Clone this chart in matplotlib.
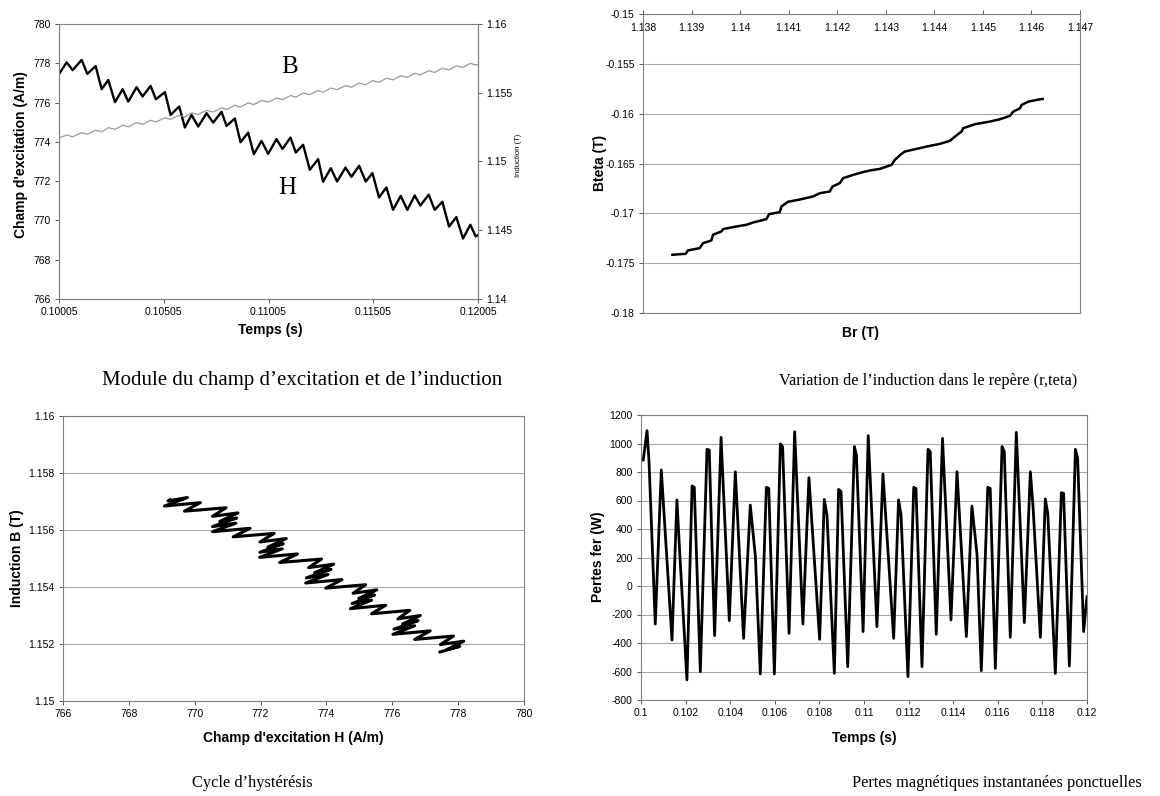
import matplotlib
matplotlib.use("Agg")
import matplotlib.pyplot as plt

plt.rcParams['font.family'] = ['Liberation Sans', 'DejaVu Sans']

# ---- données ----
# module H(t) et B(t)
temps_h = [0.10005, 0.100416, 0.100702, 0.101131, 0.101401, 0.101799, 0.102085, 0.102403, 0.102721, 0.103087,
           0.103357, 0.103754, 0.104040, 0.104422, 0.104676, 0.105106, 0.105376, 0.105789, 0.106059, 0.106377,
           0.106695, 0.107093, 0.107411, 0.107808, 0.108047, 0.108444, 0.108714, 0.109080, 0.109350, 0.109716,
           0.110034, 0.110431, 0.110718, 0.111099, 0.111353, 0.111703, 0.112021, 0.112419, 0.112657, 0.113023,
           0.113325, 0.113722, 0.114009, 0.114374, 0.114692, 0.115010, 0.115328, 0.115678, 0.115996, 0.116361,
           0.116679, 0.117029, 0.117299, 0.117697, 0.117983, 0.118349, 0.118667, 0.119016, 0.119334, 0.119684,
           0.119939, 0.12005]
champ_h = [777.45, 778.05, 777.65, 778.17, 777.46, 777.86, 776.68, 777.15, 776.02, 776.68,
           776.05, 776.78, 776.31, 776.85, 776.17, 776.53, 775.37, 775.80, 774.73, 775.37,
           774.78, 775.46, 774.98, 775.53, 774.81, 775.19, 773.98, 774.47, 773.37, 774.05,
           773.39, 774.14, 773.64, 774.22, 773.46, 773.85, 772.58, 773.12, 771.97, 772.66,
           771.98, 772.69, 772.22, 772.78, 771.98, 772.41, 771.17, 771.68, 770.54, 771.25,
           770.54, 771.27, 770.76, 771.31, 770.54, 770.95, 769.69, 770.17, 769.08, 769.78,
           769.19, 769.25]
induction_b = [1.15172, 1.15192, 1.15180, 1.15210, 1.15198, 1.15228, 1.15216, 1.15246, 1.15234, 1.15264,
               1.15252, 1.15282, 1.15270, 1.15300, 1.15288, 1.15318, 1.15306, 1.15336, 1.15324, 1.15354,
               1.15342, 1.15372, 1.15360, 1.15390, 1.15378, 1.15408, 1.15396, 1.15426, 1.15414, 1.15444,
               1.15432, 1.15462, 1.15450, 1.15480, 1.15468, 1.15498, 1.15486, 1.15516, 1.15504, 1.15534,
               1.15522, 1.15552, 1.15540, 1.15570, 1.15558, 1.15588, 1.15576, 1.15606, 1.15594, 1.15624,
               1.15612, 1.15642, 1.15630, 1.15660, 1.15648, 1.15678, 1.15666, 1.15696, 1.15684, 1.15714,
               1.15702, 1.15706]

# induction dans le repère (r, teta)
br = [1.138605, 1.138879, 1.138927, 1.139168, 1.139237, 1.139408, 1.139443, 1.139614, 1.139649, 1.139924,
      1.140130, 1.140267, 1.140542, 1.140597, 1.140817, 1.140851, 1.140988, 1.141263, 1.141504, 1.141641,
      1.141847, 1.141902, 1.142053, 1.142122, 1.142328, 1.142500, 1.142672, 1.142878, 1.143118, 1.143187,
      1.143324, 1.143393, 1.143702, 1.143840, 1.144114, 1.144320, 1.144424, 1.144561, 1.144595, 1.144836,
      1.145145, 1.145351, 1.145557, 1.145626, 1.145763, 1.145798, 1.145935, 1.146107, 1.146230]
bteta = [-0.17416, -0.17406, -0.17372, -0.17349, -0.17299, -0.17272, -0.17215, -0.17182, -0.17158, -0.17132,
         -0.17115, -0.17092, -0.17058, -0.17008, -0.16988, -0.16931, -0.16884, -0.16858, -0.16831, -0.16798,
         -0.16781, -0.16731, -0.16697, -0.16647, -0.16614, -0.16590, -0.16570, -0.16554, -0.16514, -0.16463,
         -0.16403, -0.16380, -0.16346, -0.16330, -0.16303, -0.16273, -0.16230, -0.16179, -0.16146, -0.16106,
         -0.16079, -0.16056, -0.16022, -0.15979, -0.15946, -0.15912, -0.15879, -0.15862, -0.15852]

# pertes fer instantanées
temps_p = [0.1001, 0.10027, 0.10036, 0.10064, 0.10091, 0.10139, 0.10161, 0.10173, 0.10206, 0.10229,
           0.10239, 0.10266, 0.10296, 0.10306, 0.10330, 0.10359, 0.10396, 0.10423, 0.10460, 0.10490,
           0.10513, 0.10535, 0.10562, 0.10573, 0.10598, 0.10625, 0.10635, 0.10664, 0.10689, 0.10726,
           0.10753, 0.10801, 0.10822, 0.10834, 0.10867, 0.10886, 0.10897, 0.10927, 0.10957, 0.10966,
           0.10996, 0.11019, 0.11058, 0.11085, 0.11133, 0.11155, 0.11166, 0.11197, 0.11223, 0.11233,
           0.11260, 0.11287, 0.11297, 0.11324, 0.11352, 0.11390, 0.11417, 0.11459, 0.11484, 0.11507,
           0.11526, 0.11555, 0.11566, 0.11589, 0.11619, 0.11629, 0.11656, 0.11683, 0.11719, 0.11746,
           0.11758, 0.11791, 0.11813, 0.11824, 0.11858, 0.11885, 0.11895, 0.11921, 0.11948, 0.11958,
           0.11985, 0.12000]
pertes = [884, 1090, 873, -267, 814, -379, 604, 253, -659, 702,
          692, -601, 959, 954, -348, 1043, -243, 802, -367, 568,
          206, -617, 692, 685, -617, 997, 978, -332, 1083, -267,
          760, -374, 608, 498, -613, 678, 662, -566, 978, 919,
          -320, 1055, -285, 786, -367, 604, 498, -636, 692, 685,
          -566, 959, 943, -339, 1036, -238, 802, -355, 561, 218,
          -594, 692, 685, -578, 978, 943, -360, 1078, -257, 802,
          557, -360, 611, 510, -613, 655, 650, -561, 959, 896,
          -320, -75]

# graduations
ticks_t1 = [0.10005, 0.10505, 0.11005, 0.11505, 0.12005]
ticks_h1 = [766, 768, 770, 772, 774, 776, 778, 780]
ticks_b1 = [1.14, 1.145, 1.15, 1.155, 1.16]
ticks_br = [1.138, 1.139, 1.14, 1.141, 1.142, 1.143, 1.144, 1.145, 1.146, 1.147]
ticks_bt = [-0.18, -0.175, -0.17, -0.165, -0.16, -0.155, -0.15]
ticks_h3 = [766, 768, 770, 772, 774, 776, 778, 780]
ticks_b3 = [1.15, 1.152, 1.154, 1.156, 1.158, 1.16]
ticks_t4 = [0.1, 0.102, 0.104, 0.106, 0.108, 0.11, 0.112, 0.114, 0.116, 0.118, 0.12]
ticks_p4 = [-800, -600, -400, -200, 0, 200, 400, 600, 800, 1000, 1200]

GRID = '#a9a9a9'
SPINE = '#808080'
TICK_FS = 7.5
LAB_FS = 10
W, H = 1160, 796


def style(ax, grid=True):
    for s in ax.spines.values():
        s.set_color(SPINE)
        s.set_linewidth(0.8)
    ax.tick_params(direction='out', length=3, width=0.7, color='#555555', labelsize=TICK_FS, pad=3)
    if grid:
        ax.yaxis.grid(True, color=GRID, lw=0.8)
        ax.set_axisbelow(True)


def fmt(v):
    return '%g' % v


def ftext(x, y, s, **kw):
    fig.text(x / W, 1 - y / H, s, ha='center', va='center', **kw)


fig = plt.figure(figsize=(11.6, 7.96), dpi=100)

# ---- 1 : module du champ et de l'induction ----
ax1 = fig.add_axes([59 / W, 1 - 299 / H, 419 / W, 275 / H])
style(ax1, grid=False)
ax1.plot(temps_h, champ_h, color='black', lw=1.7)
ax1.set_xlim(0.10005, 0.12005)
ax1.set_ylim(766, 780)
ax1.set_xticks(ticks_t1, [fmt(v) for v in ticks_t1])
ax1.set_yticks(ticks_h1, [fmt(v) for v in ticks_h1])
ax1.spines['top'].set_linestyle((0, (2, 1)))
ax1b = ax1.twinx()
style(ax1b, grid=False)
ax1b.plot(temps_h, induction_b, color='#9a9a9a', lw=0.9)
ax1b.set_ylim(1.14, 1.16)
ax1b.set_yticks(ticks_b1, [fmt(v) for v in ticks_b1])
ax1b.spines['top'].set_visible(False)
ax1.text(0.11108, 777.8, 'B', family='Liberation Serif', fontsize=18, ha='center', va='center')
ax1.text(0.11093, 771.65, 'H', family='Liberation Serif', fontsize=18, ha='center', va='center')
ftext(21, 155, "Champ d'excitation (A/m)", rotation=90, fontsize=LAB_FS, fontweight='bold')
ftext(519, 155, 'Induction (T)', rotation=90, fontsize=5.5)
ftext(270, 330, 'Temps (s)', fontsize=LAB_FS, fontweight='bold')
ftext(302, 381, 'Module du champ d’excitation et de l’induction', family='Liberation Serif', fontsize=15)

# ---- 2 : induction dans le repère (r, teta) ----
ax2 = fig.add_axes([643 / W, 1 - 313 / H, 437 / W, 299 / H])
style(ax2)
ax2.plot(br, bteta, color='black', lw=1.8)
ax2.set_xlim(1.138, 1.147)
ax2.set_ylim(-0.18, -0.15)
ax2.set_xticks(ticks_br, [fmt(v) for v in ticks_br])
ax2.set_yticks(ticks_bt, [fmt(v) for v in ticks_bt])
ax2.tick_params(axis='x', top=True, bottom=False, labeltop=True, labelbottom=False, pad=-17)
ftext(600, 163, 'Bteta (T)', rotation=90, fontsize=LAB_FS, fontweight='bold')
ftext(861, 333, 'Br (T)', fontsize=LAB_FS, fontweight='bold')
ftext(928, 381, 'Variation de l’induction dans le repère (r,teta)', family='Liberation Serif', fontsize=11.8)

# ---- 3 : cycle d'hystérésis ----
ax3 = fig.add_axes([63 / W, 1 - 701 / H, 461 / W, 285 / H])
style(ax3)
ax3.plot(champ_h, induction_b, color='black', lw=2.2)
ax3.set_xlim(766, 780)
ax3.set_ylim(1.15, 1.16)
ax3.set_xticks(ticks_h3, [fmt(v) for v in ticks_h3])
ax3.set_yticks(ticks_b3, [fmt(v) for v in ticks_b3])
ftext(17, 558, 'Induction B (T)', rotation=90, fontsize=LAB_FS, fontweight='bold')
ftext(293, 738, "Champ d'excitation H (A/m)", fontsize=LAB_FS, fontweight='bold')
ftext(252, 783, 'Cycle d’hystérésis', family='Liberation Serif', fontsize=11.8)

# ---- 4 : pertes fer ----
ax4 = fig.add_axes([641 / W, 1 - 700 / H, 446 / W, 285 / H])
style(ax4)
ax4.plot(temps_p, pertes, color='black', lw=2.0)
ax4.set_xlim(0.1, 0.12)
ax4.set_ylim(-800, 1200)
ax4.set_xticks(ticks_t4, [fmt(v) for v in ticks_t4])
ax4.set_yticks(ticks_p4, [fmt(v) for v in ticks_p4])
ftext(598, 557, 'Pertes fer (W)', rotation=90, fontsize=LAB_FS, fontweight='bold')
ftext(864, 738, 'Temps (s)', fontsize=LAB_FS, fontweight='bold')
ftext(997, 783, 'Pertes magnétiques instantanées ponctuelles', family='Liberation Serif', fontsize=11.8)

fig.savefig('out.png', dpi=100)
